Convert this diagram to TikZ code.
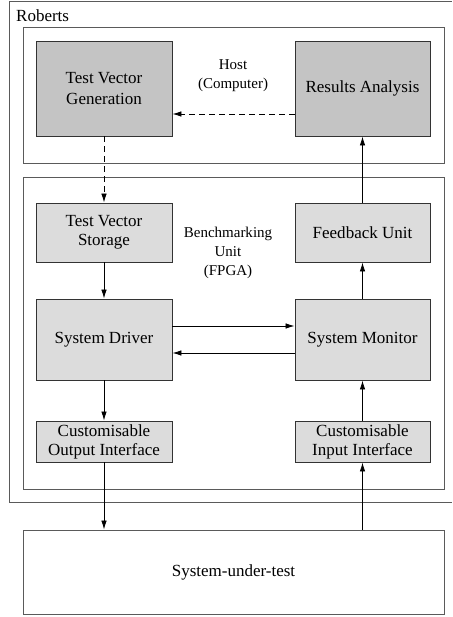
\documentclass[tikz,border=0pt]{standalone}
\usepackage{fontspec}
\setmainfont{Liberation Serif}
\usetikzlibrary{arrows.meta}
\definecolor{darkfill}{HTML}{C4C4C4}
\definecolor{lightfill}{HTML}{DCDCDC}
\definecolor{framecol}{HTML}{5A5A5A}
\tikzset{
  frame/.style={draw=framecol, line width=0.9pt},
  darkbox/.style={draw=black!80, line width=0.9pt, fill=darkfill, align=center,
    font=\fontsize{17}{21}\selectfont},
  lightbox/.style={draw=black!80, line width=0.9pt, fill=lightfill, align=center,
    font=\fontsize{17}{19}\selectfont},
  label/.style={align=center, font=\fontsize{15}{19}\selectfont},
  conn/.style={line width=0.8pt, -{Latex[length=9pt,width=5.5pt]}},
  dconn/.style={conn, dash pattern=on 6pt off 4pt},
}
\begin{document}
\begin{tikzpicture}[x=1pt,y=-1pt]
\fill[white] (0,0) rectangle (452,617);
\useasboundingbox (0,0) rectangle (452,617);
% outer Roberts frame (open on the right)
\draw[frame] (451.5,1) -- (9,1) -- (9,502) -- (451.5,502);
\node[anchor=west, font=\fontsize{17}{20}\selectfont, inner sep=0pt] (roberts) at (16,16) {Roberts};
% host frame
\draw[frame] (23,27) rectangle (444,163);
\node[label] (host) at (233,76) {Host\\(Computer)};
% benchmarking frame
\draw[frame] (23,177) rectangle (444,489);
\node[label] (bench) at (228,253) {Benchmarking\\Unit\\(FPGA)};
% SUT
\node[draw=framecol, line width=0.9pt, minimum width=421pt, minimum height=84pt,
  font=\fontsize{17}{20}\selectfont] (sut) at (233.5,572) {System-under-test};
% nodes
\node[darkbox, minimum width=136pt, minimum height=95pt] (tvg) at (104,88.5) {Test Vector\\Generation};
\node[darkbox, minimum width=135pt, minimum height=95pt] (ra) at (362.5,88.5) {Results Analysis};
\node[lightbox, minimum width=136pt, minimum height=59pt] (tvs) at (104,232.5) {Test Vector\\Storage};
\node[lightbox, minimum width=135pt, minimum height=59pt] (fb) at (362.5,232.5) {Feedback Unit};
\node[lightbox, minimum width=136pt, minimum height=81pt] (sd) at (104,339.5) {System Driver};
\node[lightbox, minimum width=135pt, minimum height=81pt] (sm) at (362.5,339.5) {System Monitor};
\node[lightbox, minimum width=136pt, minimum height=41pt] (coi) at (104,441.5) {Customisable\\Output Interface};
\node[lightbox, minimum width=135pt, minimum height=41pt] (cii) at (362.5,441.5) {Customisable\\Input Interface};
% connectors
\draw[dconn] (ra.west |- 0,114) -- (tvg.east |- 0,114);
\draw[dconn] (tvg.south) -- (tvs.north);
\draw[conn] (tvs.south) -- (sd.north);
\draw[conn] (sd.east |- 0,326) -- (sm.west |- 0,326);
\draw[conn] (sm.west |- 0,353) -- (sd.east |- 0,353);
\draw[conn] (sd.south) -- (coi.north);
\draw[conn] (coi.south) -- (coi.south |- sut.north);
\draw[conn] (cii.south |- sut.north) -- (cii.south);
\draw[conn] (cii.north) -- (sm.south);
\draw[conn] (sm.north) -- (fb.south);
\draw[conn] (fb.north) -- (ra.south);
\end{tikzpicture}
\end{document}
